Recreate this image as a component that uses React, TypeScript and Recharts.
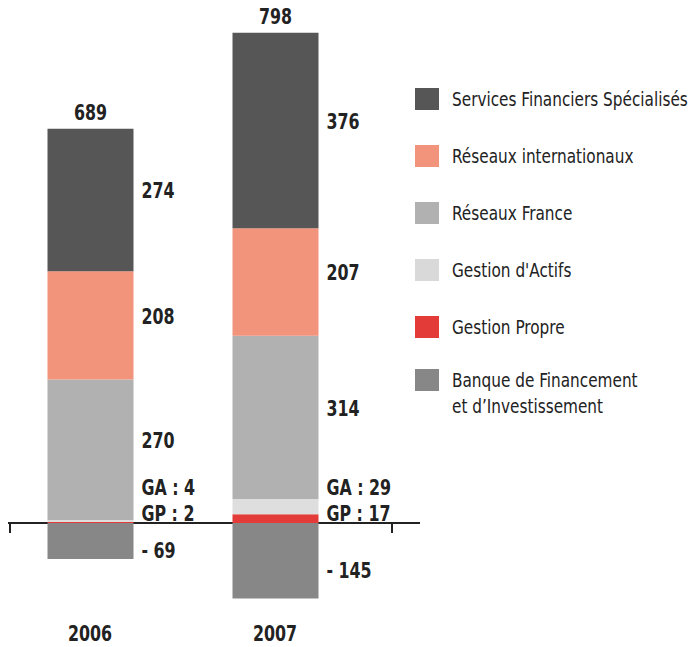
import React from "react";
import { BarChart, Bar, XAxis, YAxis, ReferenceLine, LabelList, Legend } from "recharts";

const years = ["2006", "2007"];
const gestionPropre = [2, 17];
const gestionActifs = [4, 29];
const reseauxFrance = [270, 314];
const reseauxInternationaux = [208, 207];
const servicesFinanciers = [274, 376];
const banqueFinancement = [-69, -145];
const totals = [689, 798];

const legendItems = [
  { label: ["Services Financiers Spécialisés"], color: "#555655" },
  { label: ["Réseaux internationaux"], color: "#F2937C" },
  { label: ["Réseaux France"], color: "#B1B1B1" },
  { label: ["Gestion d'Actifs"], color: "#D9D9D9" },
  { label: ["Gestion Propre"], color: "#E23B38" },
  { label: ["Banque de Financement", "et d’Investissement"], color: "#878787" },
];

const data = years.map((year, i) => ({
  year,
  gp: gestionPropre[i],
  ga: gestionActifs[i],
  rf: reseauxFrance[i],
  ri: reseauxInternationaux[i],
  sfs: servicesFinanciers[i],
  bfi: banqueFinancement[i],
}));

const FONT = "'DejaVu Sans Condensed', 'Liberation Sans Narrow', Arial, sans-serif";
const INK = "#222222";

// condensed bold text, squeezed horizontally to get close to the narrow face of the original
function CText({ x, y, anchor = "start", children }: any) {
  return (
    <text
      transform={`translate(${x},${y}) scale(0.8,1)`}
      textAnchor={anchor}
      dominantBaseline="central"
      style={{ fontFamily: FONT, fontSize: 22, fontWeight: 700, fill: INK }}
    >
      {children}
    </text>
  );
}

function sideLabel(values: number[], offset: number) {
  return (props: any) => {
    const x = Number(props.x);
    const y = Number(props.y);
    const w = Number(props.width);
    const h = Number(props.height);
    const v = values[props.index];
    const text = v < 0 ? `- ${Math.abs(v)}` : String(v);
    return (
      <CText x={x + w + 8} y={y + h / 2 + offset}>
        {text}
      </CText>
    );
  };
}

// GP bar sits on the zero line, so both small labels hang off its base
const smallLabels = (props: any) => {
  const x = Number(props.x);
  const y = Number(props.y);
  const w = Number(props.width);
  const h = Number(props.height);
  const base = Math.max(y, y + h);
  const i = props.index;
  return (
    <g>
      <CText x={x + w + 8} y={base - 35}>{`GA : ${gestionActifs[i]}`}</CText>
      <CText x={x + w + 8} y={base - 9}>{`GP : ${gestionPropre[i]}`}</CText>
    </g>
  );
};

// side value plus the total above the bar
const topLabels = (props: any) => {
  const x = Number(props.x);
  const y = Number(props.y);
  const w = Number(props.width);
  const h = Number(props.height);
  const i = props.index;
  const top = Math.min(y, y + h);
  return (
    <g>
      <CText x={x + w / 2} y={top - 16} anchor="middle">
        {totals[i]}
      </CText>
      <CText x={x + w + 8} y={y + h / 2 - 9}>
        {servicesFinanciers[i]}
      </CText>
    </g>
  );
};

const AxisLine = (props: any) => {
  const { x1, x2, y1 } = props;
  return (
    <g stroke={INK} strokeWidth={2}>
      <line x1={x1} x2={x2} y1={y1} y2={y1} />
      <line x1={x1 + 2} x2={x1 + 2} y1={y1} y2={y1 + 10} />
      <line x1={x2 - 28} x2={x2 - 28} y1={y1} y2={y1 + 10} />
    </g>
  );
};

const YearTick = (props: any) => {
  const { x, y, payload } = props;
  return (
    <CText x={x} y={y + 7} anchor="middle">
      {payload.value}
    </CText>
  );
};

const LegendBox = () => (
  <div style={{ fontFamily: FONT, fontSize: 20, color: INK }}>
    {legendItems.map((item, i) => (
      <div
        key={i}
        style={{ display: "flex", alignItems: "flex-start", height: i === 4 ? 53 : 57 }}
      >
        <div style={{ width: 24, height: 22, background: item.color, flexShrink: 0 }} />
        <div
          style={{
            marginLeft: 13,
            lineHeight: "26px",
            marginTop: -2,
            whiteSpace: "nowrap",
            transform: "scaleX(0.85)",
            transformOrigin: "left center",
          }}
        >
          {item.label.map((l, j) => (
            <div key={j}>{l}</div>
          ))}
        </div>
      </div>
    ))}
  </div>
);

export default function App() {
  return (
    <div style={{ position: "absolute", left: 0, top: 0, width: 692, height: 647, background: "#fff" }}>
      <BarChart
        width={692}
        height={647}
        data={data}
        stackOffset="sign"
        margin={{ top: 3, right: 272, left: 8, bottom: 0 }}
      >
        <ReferenceLine y={0} shape={AxisLine} zIndex={0} />
        <XAxis
          dataKey="year"
          height={20}
          axisLine={false}
          tickLine={false}
          tickSize={0}
          tickMargin={0}
          padding={{ left: -10.5, right: 52.5 }}
          tick={YearTick}
        />
        <YAxis hide domain={[-200, 1000]} />
        <Legend
          layout="vertical"
          align="center"
          verticalAlign="middle"
          content={LegendBox}
          wrapperStyle={{ left: 415, top: 88, width: 277 }}
        />
        <Bar dataKey="gp" stackId="a" fill="#E23B38" barSize={86} isAnimationActive={false}>
          <LabelList content={smallLabels} />
        </Bar>
        <Bar dataKey="ga" stackId="a" fill="#DEDEDE" barSize={86} isAnimationActive={false} />
        <Bar dataKey="rf" stackId="a" fill="#B1B1B1" barSize={86} isAnimationActive={false}>
          <LabelList content={sideLabel(reseauxFrance, -9)} />
        </Bar>
        <Bar dataKey="ri" stackId="a" fill="#F2937C" barSize={86} isAnimationActive={false}>
          <LabelList content={sideLabel(reseauxInternationaux, -9)} />
        </Bar>
        <Bar dataKey="sfs" stackId="a" fill="#555655" barSize={86} isAnimationActive={false}>
          <LabelList content={topLabels} />
        </Bar>
        <Bar dataKey="bfi" stackId="a" fill="#878787" barSize={86} isAnimationActive={false}>
          <LabelList content={sideLabel(banqueFinancement, 10)} />
        </Bar>
      </BarChart>
    </div>
  );
}
